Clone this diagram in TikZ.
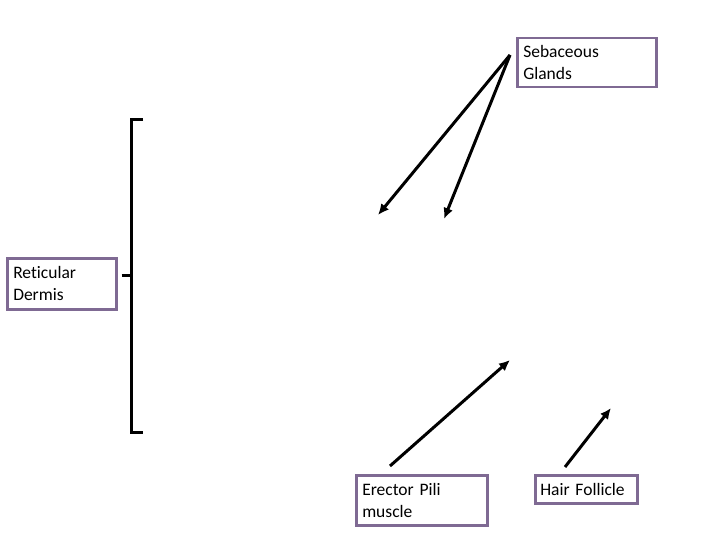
\documentclass[tikz,border=0pt]{standalone}
\usepackage{fontspec}
\setmainfont{Carlito}[Ligatures=NoCommon]
\usetikzlibrary{arrows.meta, positioning}
\definecolor{boxline}{HTML}{7F6A93}
\tikzset{
  box/.style={rectangle,draw=boxline,line width=2.5pt,anchor=north west,inner sep=0pt,
    align=left,font=\fontsize{17.5}{22}\selectfont},
  line/.style={-{Latex[length=11pt,width=10pt]},line width=3pt},
  brace/.style={line width=3pt}
}

\begin{document}
\begin{tikzpicture}[x=1pt,y=-1pt]
\useasboundingbox (0,0) rectangle (720,540);
% labels
\node[box, minimum width=139pt, minimum height=49pt, text width=127pt] (seb) at (516,37) {Sebaceous\\Glands};
\node[box, minimum width=109pt, minimum height=51pt, text width=97pt] (ret) at (6,257) {Reticular\\Dermis};
\node[box, minimum width=131pt, minimum height=50pt, text width=119pt] (epm) at (355,474) {Erector Pili\\muscle};
\node[box, minimum width=102pt, minimum height=28pt, text width=92pt] (hf) at (534,474) {Hair Follicle};
% arrow ends
\coordinate (sebfrom) at (510,55);
\coordinate (gland1) at (378,215);
\coordinate (gland2) at (444,219);
\coordinate (epmfrom) at (390,466);
\coordinate (muscle) at (510,360);
\coordinate (hffrom) at (565,467);
\coordinate (follicle) at (611,408);
\draw[line] (sebfrom) -- (gland1);
\draw[line] (sebfrom) -- (gland2);
\draw[line] (epmfrom) -- (muscle);
\draw[line] (hffrom) -- (follicle);
% bracket
\coordinate (brtop) at (143,120);
\coordinate (brbot) at (143,432);
\coordinate (brmid) at (131,275);
\draw[brace] (brtop) -- (131,120) -- (131,432) -- (brbot);
\draw[brace] (ret.east |- brmid) ++(4,0) -- (brmid);
\end{tikzpicture}
\end{document}
